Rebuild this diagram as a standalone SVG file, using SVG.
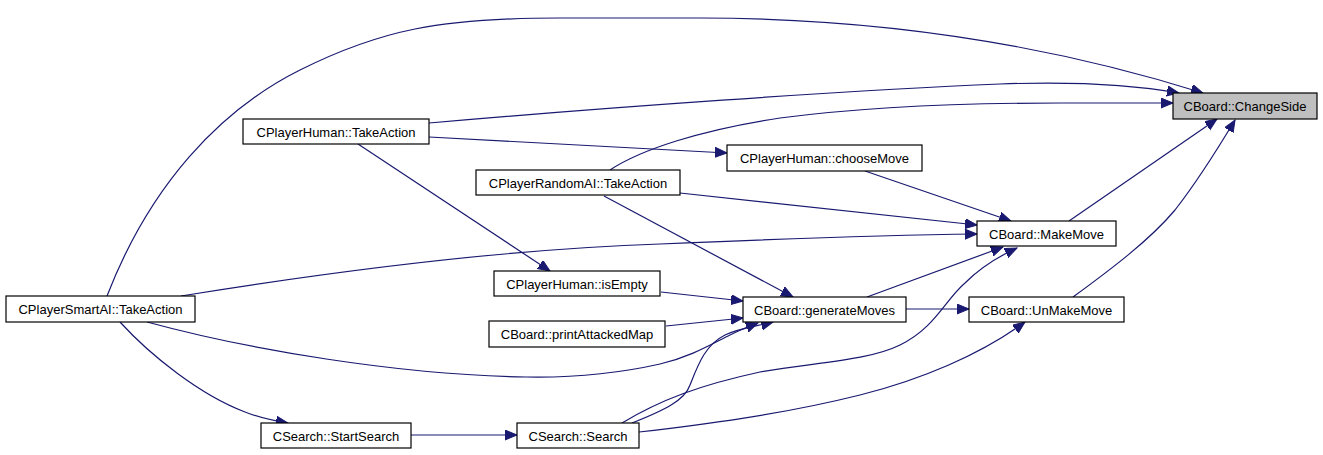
<svg xmlns="http://www.w3.org/2000/svg" width="1323" height="455" viewBox="0 0 1323 455">
<style>
.n rect{fill:#ffffff;stroke:#000000;stroke-width:1.2}
.n.hl rect{fill:#bfbfbf}
.n text{font-family:"Liberation Sans",Arial,sans-serif;font-size:13px;fill:#000000;text-anchor:middle}
.e path{fill:none;stroke:#191970;stroke-width:1.2;marker-end:url(#ah)}
</style>
<defs>
<marker id="ah" markerUnits="userSpaceOnUse" markerWidth="14" markerHeight="12" refX="12" refY="5" orient="auto" viewBox="0 0 14 12">
<path d="M0,0 L12,5 L0,10 z" fill="#191970" stroke="#191970" stroke-width="1"/>
</marker>
</defs>
<rect width="1323" height="455" fill="#ffffff"/>
<g id="connectors" class="e">
<path d="M107,296 C150,185 220,110 300,70 C380,30 440,18 560,18 L700,18 C880,18 1050,45 1203,93"/>
<path d="M429,123 C600,108 850,90 1000,84 C1080,81 1140,86 1179,93"/>
<path d="M610,170 C640,150 700,130 780,118 C880,105 1000,103 1060,103 L1173,103"/>
<path d="M1069,221 L1217,119"/>
<path d="M1073,297 C1110,270 1150,240 1175,210 C1200,178 1220,145 1235,120"/>
<path d="M429,137 L727,153"/>
<path d="M865,171 L1011,221"/>
<path d="M680,193 L977,225"/>
<path d="M181,296 C280,280 480,250 660,244 C800,238 900,235 977,234"/>
<path d="M867,297 L1003,247"/>
<path d="M622,423 C660,400 700,385 760,372 C820,362 870,360 900,345 C935,328 945,300 965,283 C980,268 995,258 1017,248"/>
<path d="M632,423 C665,410 685,400 690,385 C698,365 705,345 725,335 C740,328 758,326 773,322"/>
<path d="M147,322 C250,350 400,375 526,377 C580,378 620,373 660,364 C690,357 710,345 730,335 C740,330 750,326 758,323"/>
<path d="M604,196 L793,297"/>
<path d="M906,309 L969,309"/>
<path d="M358,144 L550,271"/>
<path d="M120,322 C150,355 200,395 245,412 C260,418 275,421 288,423"/>
<path d="M411,435 L517,435"/>
<path d="M661,292 L743,301"/>
<path d="M666,326 L743,318"/>
<path d="M639,432 C700,425 780,415 860,395 C920,380 980,355 1025,322"/>
</g>
<g id="node-changeside" class="n hl"><rect x="1173" y="93" width="144" height="26"/><text x="1245" y="111">CBoard::ChangeSide</text></g>
<g id="node-human-takeaction" class="n"><rect x="243" y="119" width="186" height="25"/><text x="336" y="136.5">CPlayerHuman::TakeAction</text></g>
<g id="node-choosemove" class="n"><rect x="727" y="145" width="195" height="26"/><text x="824.5" y="163">CPlayerHuman::chooseMove</text></g>
<g id="node-random-takeaction" class="n"><rect x="476" y="170" width="204" height="25"/><text x="578" y="187.5">CPlayerRandomAI::TakeAction</text></g>
<g id="node-makemove" class="n"><rect x="977" y="221" width="139" height="25"/><text x="1046.5" y="238.5">CBoard::MakeMove</text></g>
<g id="node-isempty" class="n"><rect x="494" y="271" width="166" height="25"/><text x="577" y="288.5">CPlayerHuman::isEmpty</text></g>
<g id="node-printattackedmap" class="n"><rect x="489" y="321" width="176" height="26"/><text x="577" y="339">CBoard::printAttackedMap</text></g>
<g id="node-generatemoves" class="n"><rect x="743" y="297" width="163" height="25"/><text x="824.5" y="314.5">CBoard::generateMoves</text></g>
<g id="node-unmakemove" class="n"><rect x="969" y="297" width="155" height="25"/><text x="1046.5" y="314.5">CBoard::UnMakeMove</text></g>
<g id="node-smartai-takeaction" class="n"><rect x="6" y="296" width="189" height="26"/><text x="100.5" y="314">CPlayerSmartAI::TakeAction</text></g>
<g id="node-startsearch" class="n"><rect x="261" y="423" width="150" height="25"/><text x="336" y="440.5">CSearch::StartSearch</text></g>
<g id="node-search" class="n"><rect x="517" y="423" width="122" height="25"/><text x="578" y="440.5">CSearch::Search</text></g>
</svg>
